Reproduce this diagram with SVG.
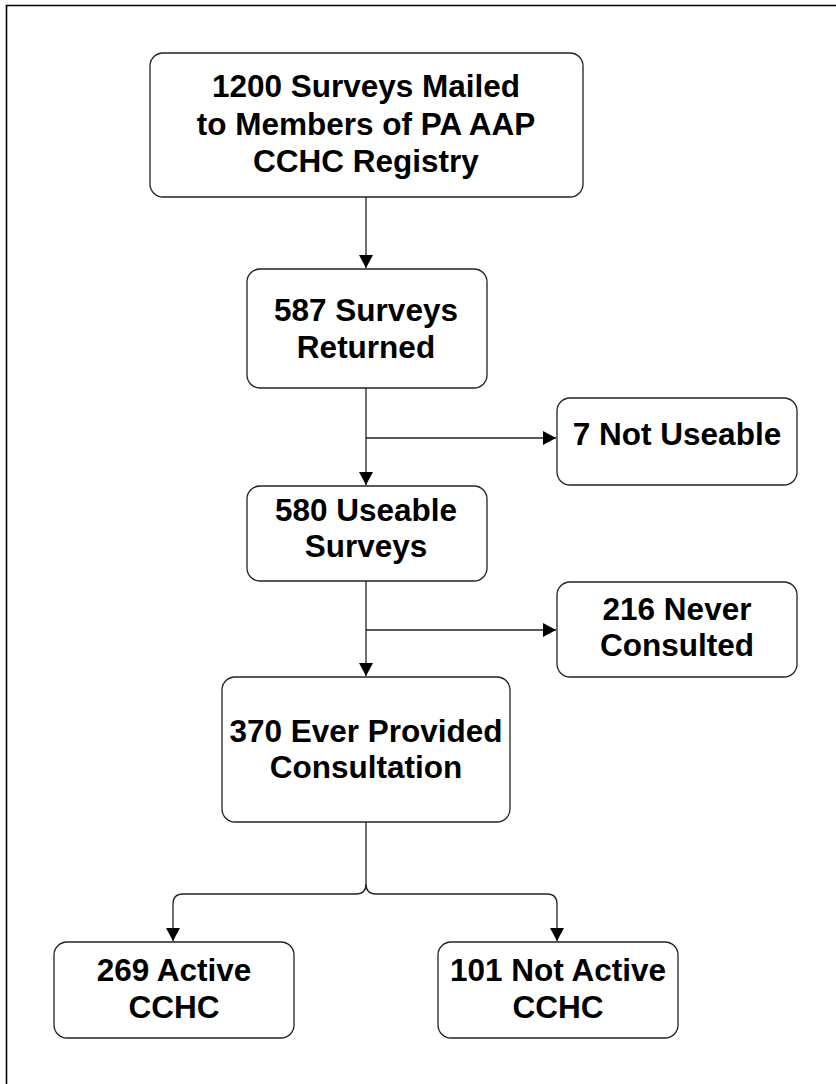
<svg xmlns="http://www.w3.org/2000/svg" width="836" height="1084" viewBox="0 0 836 1084">
<style>
.box{fill:#fff;stroke:#222;stroke-width:1.3}
.t{font-family:"Liberation Sans",Arial,sans-serif;font-weight:bold;font-size:31.5px;fill:#000;text-anchor:middle}
.c{fill:none;stroke:#222;stroke-width:1.3}
</style>
<defs>
<marker id="ah" markerWidth="14" markerHeight="14" refX="13" refY="7" orient="auto" markerUnits="userSpaceOnUse">
<path d="M0,0 L13,7 L0,14 Z" fill="#000"/>
</marker>
</defs>
<rect width="836" height="1084" fill="#fff"/>
<path d="M6.5,1084 V5.5 H836" fill="none" stroke="#000" stroke-width="1.6"/>
<g id="connectors">
<path class="c" d="M366,197 V268" marker-end="url(#ah)"/>
<path class="c" d="M366,388 V485" marker-end="url(#ah)"/>
<path class="c" d="M366,438 H556" marker-end="url(#ah)"/>
<path class="c" d="M366,581 V676" marker-end="url(#ah)"/>
<path class="c" d="M366,630 H556" marker-end="url(#ah)"/>
<path class="c" d="M366,822 V884 Q366,894 356,894 H183 Q173,894 173,904 V941" marker-end="url(#ah)"/>
<path class="c" d="M366,884 Q366,894 376,894 H547 Q557,894 557,904 V941" marker-end="url(#ah)"/>
</g>
<g id="n1">
<rect class="box" x="150" y="53" width="433" height="144" rx="13"/>
<text class="t" x="366" y="97">1200 Surveys Mailed</text>
<text class="t" x="366" y="135">to Members of PA AAP</text>
<text class="t" x="366" y="172">CCHC Registry</text>
</g>
<g id="n2">
<rect class="box" x="247" y="269" width="240" height="119" rx="13"/>
<text class="t" x="366" y="321">587 Surveys</text>
<text class="t" x="366" y="358">Returned</text>
</g>
<g id="n3">
<rect class="box" x="557" y="398" width="240" height="87" rx="13"/>
<text class="t" x="677" y="445">7 Not Useable</text>
</g>
<g id="n4">
<rect class="box" x="247" y="486" width="240" height="95" rx="13"/>
<text class="t" x="366" y="521">580 Useable</text>
<text class="t" x="366" y="557">Surveys</text>
</g>
<g id="n5">
<rect class="box" x="557" y="582" width="240" height="95" rx="13"/>
<text class="t" x="677" y="620">216 Never</text>
<text class="t" x="677" y="656">Consulted</text>
</g>
<g id="n6">
<rect class="box" x="222" y="677" width="288" height="145" rx="13"/>
<text class="t" x="366" y="742">370 Ever Provided</text>
<text class="t" x="366" y="778">Consultation</text>
</g>
<g id="n7">
<rect class="box" x="54" y="942" width="240" height="96" rx="13"/>
<text class="t" x="174" y="981">269 Active</text>
<text class="t" x="174" y="1018">CCHC</text>
</g>
<g id="n8">
<rect class="box" x="438" y="942" width="240" height="96" rx="13"/>
<text class="t" x="558" y="981">101 Not Active</text>
<text class="t" x="558" y="1018">CCHC</text>
</g>
</svg>
